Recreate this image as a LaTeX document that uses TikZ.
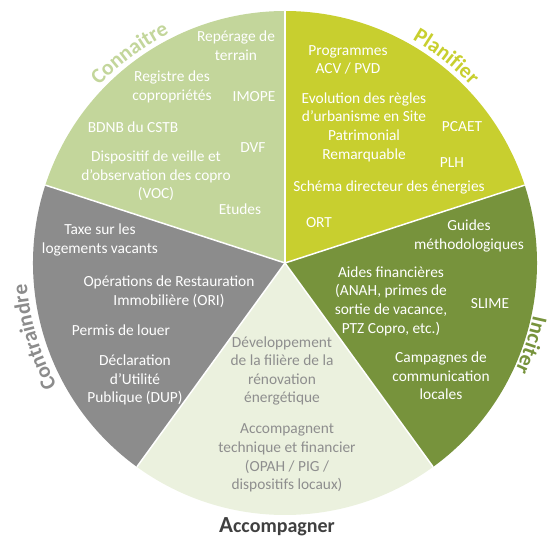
\documentclass[tikz,border=0pt]{standalone}
\usepackage{fontspec}
\setmainfont{Carlito}
\usetikzlibrary{decorations.text}
\definecolor{connaitre}{HTML}{C3D69B}
\definecolor{planifier}{HTML}{C8CF2F}
\definecolor{inciter}{HTML}{77933C}
\definecolor{contraindre}{HTML}{8C8C8C}
\definecolor{accompagner}{HTML}{EBF1DE}
\definecolor{accgrey}{HTML}{8E8E8E}
\definecolor{acclabel}{HTML}{404040}
\newcommand{\sectorfont}{\bfseries\fontsize{21.5}{24}\selectfont}
\newcommand{\bottomfont}{\bfseries\fontsize{20}{24}\selectfont}

\begin{document}
\begin{tikzpicture}[x=1pt, y=1pt,
    item/.style={align=center, text=white, inner sep=0pt,
      font=\fontsize{15.4}{18.6}\selectfont},
    accitem/.style={item, text=accgrey},
    sectorlabel/.style={decorate, decoration={text along path,
      text align=center, text color=#1}}]
  \useasboundingbox (-285,-278) rectangle (264,263);
  \def\rad{252}
  % Sectors
  \fill[connaitre]   (0,0) -- (90:\rad)  arc[start angle=90,  end angle=162, radius=\rad] -- cycle;
  \fill[contraindre] (0,0) -- (162:\rad) arc[start angle=162, end angle=234, radius=\rad] -- cycle;
  \fill[accompagner] (0,0) -- (234:\rad) arc[start angle=234, end angle=306, radius=\rad] -- cycle;
  \fill[inciter]     (0,0) -- (-54:\rad) arc[start angle=-54, end angle=18,  radius=\rad] -- cycle;
  \fill[planifier]   (0,0) -- (18:\rad)  arc[start angle=18,  end angle=90,  radius=\rad] -- cycle;
  % White separators
  \foreach \a in {18,90,162,234,306} {
    \draw[white, line width=1.5pt] (0,0) -- (\a:\rad);
  }
  % Sector titles
  \path[sectorlabel=connaitre, decoration={text={|\sectorfont|Connaitre}}]
       (150:257) arc[start angle=150, end angle=103, radius=257];
  \path[sectorlabel=planifier, decoration={text={|\sectorfont|Planifier}}]
       (75:257) arc[start angle=75, end angle=29, radius=257];
  \path[sectorlabel=inciter, decoration={text={|\sectorfont|Inciter}}]
       (5:254) arc[start angle=5, end angle=-42, radius=254];
  \path[sectorlabel=contraindre, decoration={text={|\sectorfont|Contraindre}}]
       (220:259) arc[start angle=220, end angle=173, radius=259];
  \node[anchor=base, text=acclabel, font=\bottomfont] (acclabel) at (-8,-269)
       {{\fontsize{23}{24}\selectfont A}ccompagner};
  % Connaitre
  \node[item] (reperage) at (-49,217) {Repérage de\\terrain};
  \node[item] (registre) at (-113,176) {Registre des\\copropriétés};
  \node[item] (imope) at (-31,166) {IMOPE};
  \node[item] (bdnb) at (-152,136) {BDNB du CSTB};
  \node[item] (dvf) at (-32,115) {DVF};
  \node[item] (voc) at (-129,87) {Dispositif de veille et\\d’observation des copro\\(VOC)};
  \node[item] (etudes) at (-45,54) {Etudes};
  % Planifier
  \node[item] (programmes) at (63,203) {Programmes\\ACV / PVD};
  \node[item] (evolution) at (79,136) {Evolution des règles\\d’urbanisme en Site\\Patrimonial\\Remarquable};
  \node[item] (pcaet) at (177,136) {PCAET};
  \node[item] (plh) at (167,100) {PLH};
  \node[item] (schema) at (104,76) {Schéma directeur des énergies};
  \node[item] (ort) at (34,40) {ORT};
  % Inciter
  \node[item] (guides) at (184,27) {Guides\\méthodologiques};
  \node[item] (aides) at (106,-38) {Aides financières\\(ANAH, primes de\\sortie de vacance,\\PTZ Copro, etc.)};
  \node[item] (slime) at (205,-41) {SLIME};
  \node[item] (campagnes) at (156,-113) {Campagnes de\\communication\\locales};
  % Contraindre
  \node[item] (taxe) at (-185,23) {Taxe sur les\\logements vacants};
  \node[item] (ori) at (-116,-29) {Opérations de Restauration\\Immobilière (ORI)};
  \node[item] (permis) at (-164,-67) {Permis de louer};
  \node[item] (dup) at (-150,-117) {Déclaration\\d’Utilité\\Publique (DUP)};
  % Accompagner
  \node[accitem] (filiere) at (-3,-108) {Développement\\de la filière de la\\rénovation\\énergétique};
  \node[accitem] (accomp) at (2,-195) {Accompagnent\\technique et financier\\(OPAH / PIG /\\dispositifs locaux)};
\end{tikzpicture}
\end{document}
